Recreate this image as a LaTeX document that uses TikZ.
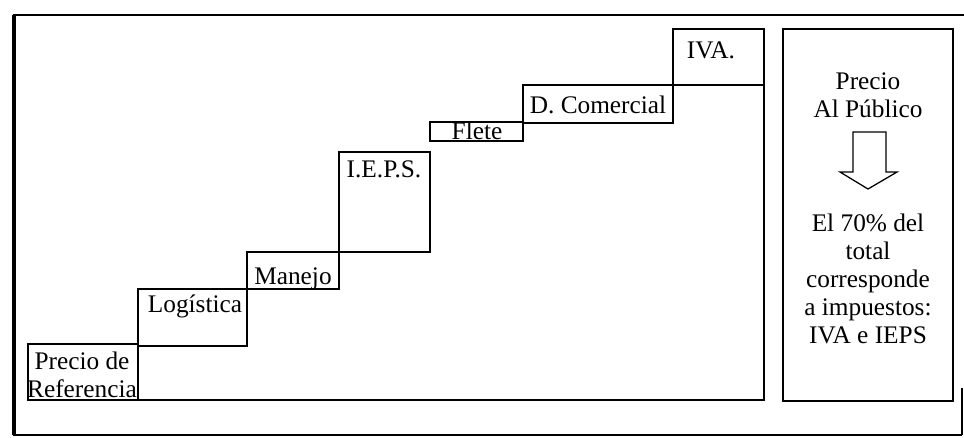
\documentclass[tikz,border=0pt]{standalone}
\usepackage{fontspec}
\setmainfont{Liberation Serif}
\usetikzlibrary{positioning}

\begin{document}
\begin{tikzpicture}[x=0.025cm,y=-0.025cm,
	escalon/.style={draw,line width=0.9pt},
	rotulo/.style={font=\fontsize{18}{19.8}\selectfont,inner sep=0pt,anchor=base,align=center}]
	\useasboundingbox (0,0) rectangle (964,437);
	% marco exterior
	\draw[line width=2.8pt] (14,15) to (14,435);
	\draw[line width=2pt] (13,15) to (964,15);
	\draw[line width=1.4pt] (13,435) to (962,435);
	\draw[line width=0.9pt] (962,388) to (962,435);
	
	% escalones
	\foreach \xa/\ya/\xb/\yb in {28/344/138/400,138/289/247/346,247/252/339/289,339/152/430/252,430/122/523/141,523/85/673/123,673/29/764/85}
	{
	\draw[escalon] (\xa,\ya) rectangle (\xb,\yb);
	}
	\draw[escalon] (138,400) to (764,400) to (764,85);
	
	\node[rotulo] (referencia) at (82,397) {Precio de\\Referencia};
	\node[rotulo] (logistica) at (195,312) {Logística};
	\node[rotulo] (manejo) at (293,284) {Manejo};
	\node[rotulo] (ieps) at (384,177) {I.E.P.S.};
	\node[rotulo] (flete) at (477,139) {Flete};
	\node[rotulo] (comercial) at (598,113) {D. Comercial};
	\node[rotulo] (iva) at (711,58) {IVA.};
	
	% recuadro derecho
	\draw[escalon] (783,29) rectangle (953,401);
	\node[rotulo] (publico) at (868,117) {Precio\\Al Público};
	\draw[line width=0.9pt,line join=miter] (853,132) to (886,132) to (886,172) to (897,172) to (868,189) to (840,172) to (853,172) to cycle;
	\node[rotulo] (impuestos) at (868,343) {El 70\% del\\total\\corresponde\\a impuestos:\\IVA e IEPS};
\end{tikzpicture}
\end{document}
